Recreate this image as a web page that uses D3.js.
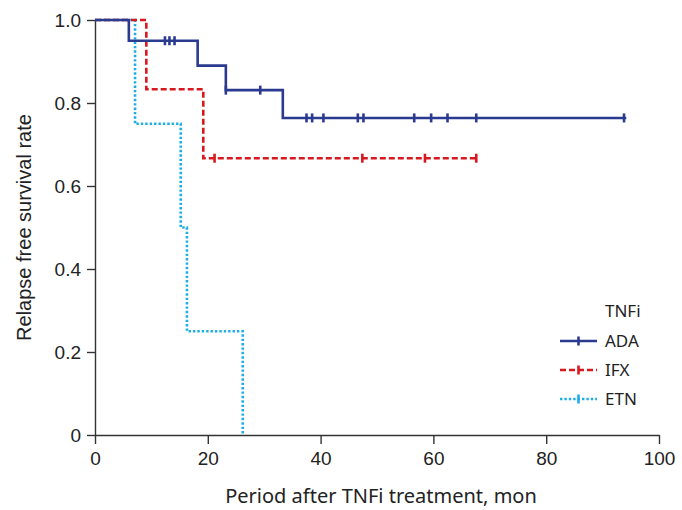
<!DOCTYPE html>
<html>
<head>
<meta charset="utf-8">
<script src="https://cdn.jsdelivr.net/npm/d3@7"></script>
<style>
  body { margin: 0; background: #fff; }
  svg text { fill: #222; }
</style>
</head>
<body>
<div id="chart"></div>
<script>
'use strict'

// survival steps: [month, survival]
const groups = ["ADA", "IFX", "ETN"];
const adaSteps = [[0, 1], [6, 0.95], [18.2, 0.89], [23.2, 0.831], [33.3, 0.764], [94.2, 0.764]];
const adaCensor = [12.4, 13.2, 14.1, 23.2, 29.3, 37.5, 38.5, 40.5, 46.6, 47.6, 56.6, 59.6, 62.5, 67.6, 93.8];
const ifxSteps = [[0, 1], [9.1, 0.833], [19.2, 0.667], [67.9, 0.667]];
const ifxCensor = [21.2, 47.4, 58.5, 67.6];
const etnSteps = [[0, 1], [7.1, 0.75], [15.2, 0.5], [16.3, 0.25], [26.2, 0]];
const etnCensor = [];
const xTicks = [0, 20, 40, 60, 80, 100];
const yTicks = [0, 0.2, 0.4, 0.6, 0.8, 1.0];

const colors = { ADA: "#2a3a8f", IFX: "#d7191f", ETN: "#1eaee6" };
const dashes = { ADA: null, IFX: "6,3", ETN: "2.4,2" };

const width = 682, height = 510;
const margin = { left: 95, right: 23, top: 20, bottom: 75 };

const svg = d3.select("#chart").append("svg")
    .attr("width", width)
    .attr("height", height);

const x = d3.scaleLinear().domain([0, 100]).range([margin.left, width - margin.right]);
const y = d3.scaleLinear().domain([0, 1]).range([height - margin.bottom, margin.top]);

// axes
const xAxis = svg.append("g")
    .attr("transform", `translate(0, ${y(0)})`)
    .call(d3.axisBottom(x).tickValues(xTicks).tickSize(9).tickPadding(8).tickSizeOuter(0));
const yAxis = svg.append("g")
    .attr("transform", `translate(${x(0)}, 0)`)
    .call(d3.axisLeft(y).tickValues(yTicks).tickSize(8).tickPadding(6).tickSizeOuter(0)
        .tickFormat(d => d === 0 ? "0" : d3.format(".1f")(d)));

[xAxis, yAxis].forEach(a => {
    a.select(".domain").attr("stroke", "#333").attr("stroke-width", 1.4);
    a.selectAll(".tick line").attr("stroke", "#333").attr("stroke-width", 1.4);
    a.selectAll(".tick text")
        .attr("font-family", "Liberation Sans, Arial, sans-serif")
        .attr("font-size", "19px")
        .attr("fill", "#222");
});

svg.append("text")
    .attr("transform", `translate(31, ${(y(0) + y(1)) / 2}) rotate(-90)`)
    .attr("text-anchor", "middle")
    .attr("font-family", "Liberation Sans, Arial, sans-serif")
    .attr("font-size", "20px")
    .text("Relapse free survival rate");

svg.append("text")
    .attr("x", 381)
    .attr("y", 503)
    .attr("text-anchor", "middle")
    .attr("font-family", "Noto Sans, sans-serif")
    .attr("font-size", "20px")
    .text("Period after TNFi treatment, mon");

// curves
const stepLine = d3.line()
    .x(d => x(d[0]))
    .y(d => y(d[1]))
    .curve(d3.curveStepAfter);

const series = [
    { name: "ETN", steps: etnSteps, censor: etnCensor },
    { name: "IFX", steps: ifxSteps, censor: ifxCensor },
    { name: "ADA", steps: adaSteps, censor: adaCensor }
];

function survAt(steps, t) {
    let s = steps[0][1];
    steps.forEach(p => { if (p[0] <= t) s = p[1]; });
    return s;
}

series.forEach(s => {
    svg.append("path")
        .datum(s.steps)
        .attr("fill", "none")
        .attr("stroke", colors[s.name])
        .attr("stroke-width", 2.6)
        .attr("stroke-dasharray", dashes[s.name])
        .attr("d", stepLine);

    svg.selectAll(null)
        .data(s.censor)
        .enter()
        .append("line")
        .attr("x1", d => x(d))
        .attr("x2", d => x(d))
        .attr("y1", d => y(survAt(s.steps, d)) - 4.5)
        .attr("y2", d => y(survAt(s.steps, d)) + 4.5)
        .attr("stroke", colors[s.name])
        .attr("stroke-width", 2.6);
});

// legend
const legend = svg.append("g").attr("transform", "translate(560, 0)");
legend.append("text")
    .attr("x", 45)
    .attr("y", 317)
    .attr("font-family", "Noto Sans, sans-serif")
    .attr("font-size", "17px")
    .text("TNFi");

groups.forEach((g, i) => {
    const ly = 341 + i * 29;
    legend.append("line")
        .attr("x1", 0).attr("x2", 37)
        .attr("y1", ly).attr("y2", ly)
        .attr("stroke", colors[g])
        .attr("stroke-width", 2.6)
        .attr("stroke-dasharray", dashes[g]);
    legend.append("line")
        .attr("x1", 18.5).attr("x2", 18.5)
        .attr("y1", ly - 4.5).attr("y2", ly + 4.5)
        .attr("stroke", colors[g])
        .attr("stroke-width", 2.6);
    legend.append("text")
        .attr("x", 45)
        .attr("y", ly + 6)
        .attr("font-family", "Noto Sans, sans-serif")
        .attr("font-size", "17px")
        .text(g);
});
</script>
</body>
</html>
